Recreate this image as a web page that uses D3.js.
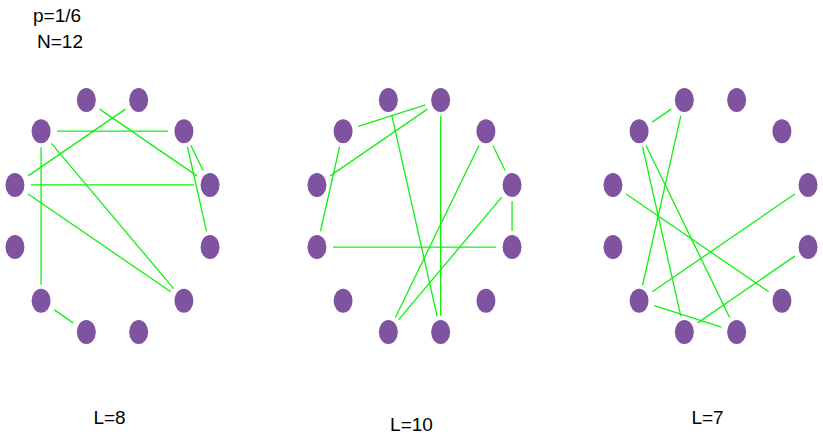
<!DOCTYPE html>
<html><head><meta charset="utf-8">
<script src="https://cdn.jsdelivr.net/npm/d3@7"></script>
<style>body{margin:0;background:#fff}text{font-family:Arial,"Liberation Sans",sans-serif;font-size:19px;fill:#000}</style>
</head><body><svg id="c" width="823" height="445"></svg>
<script>
// node slot angles (degrees clockwise from top), 12 nodes per graph
const nodeAngles = [-15, 15, 45, 75, 105, 135, 165, 195, 225, 255, 285, 315];
const graphCenters = [[112.5, 216], [414.5, 216], [710.5, 216]];
const graphLabels = ['L=8', 'L=10', 'L=7'];
const labelY = [424, 431, 424];
const edges1 = [[0, 3], [1, 10], [11, 2], [11, 8], [10, 3], [10, 5], [11, 5], [2, 3], [2, 4], [8, 7]];
const edges2 = [[0, 6], [1, 11], [1, 10], [1, 6], [11, 9], [9, 4], [2, 7], [2, 3], [3, 4], [3, 7]];
const edges3 = [[0, 11], [0, 8], [11, 7], [11, 6], [10, 5], [3, 8], [8, 6], [4, 7]];
const allEdges = [edges1, edges2, edges3];

const svg = d3.select('#c');
const rx = 101, ry = 120, gap = 16;

svg.append('text').attr('x', 33).attr('y', 22).text('p=1/6');
svg.append('text').attr('x', 37).attr('y', 48).text('N=12');

graphCenters.forEach(([cx, cy], g) => {
    const sx = d3.scaleLinear().domain([-1, 1]).range([cx - rx, cx + rx]);
    const sy = d3.scaleLinear().domain([-1, 1]).range([cy + ry, cy - ry]);
    const pos = nodeAngles.map(a => {
        const r = a * Math.PI / 180;
        return [sx(Math.sin(r)), sy(Math.cos(r))];
    });
    const grp = svg.append('g');
    grp.selectAll('line').data(allEdges[g]).enter().append('line')
        .each(function([a, b]) {
            const [x1, y1] = pos[a], [x2, y2] = pos[b];
            const d = Math.hypot(x2 - x1, y2 - y1), ux = (x2 - x1) / d, uy = (y2 - y1) / d;
            d3.select(this).attr('x1', x1 + ux * gap).attr('y1', y1 + uy * gap)
                .attr('x2', x2 - ux * gap).attr('y2', y2 - uy * gap);
        })
        .attr('stroke', '#11f011').attr('stroke-width', 1.3);
    grp.selectAll('ellipse').data(pos).enter().append('ellipse')
        .attr('cx', d => d[0]).attr('cy', d => d[1])
        .attr('rx', 9.5).attr('ry', 12).attr('fill', '#7f539f');
    svg.append('text').attr('x', cx - 3).attr('y', labelY[g]).attr('text-anchor', 'middle').text(graphLabels[g]);
});
</script></body></html>
